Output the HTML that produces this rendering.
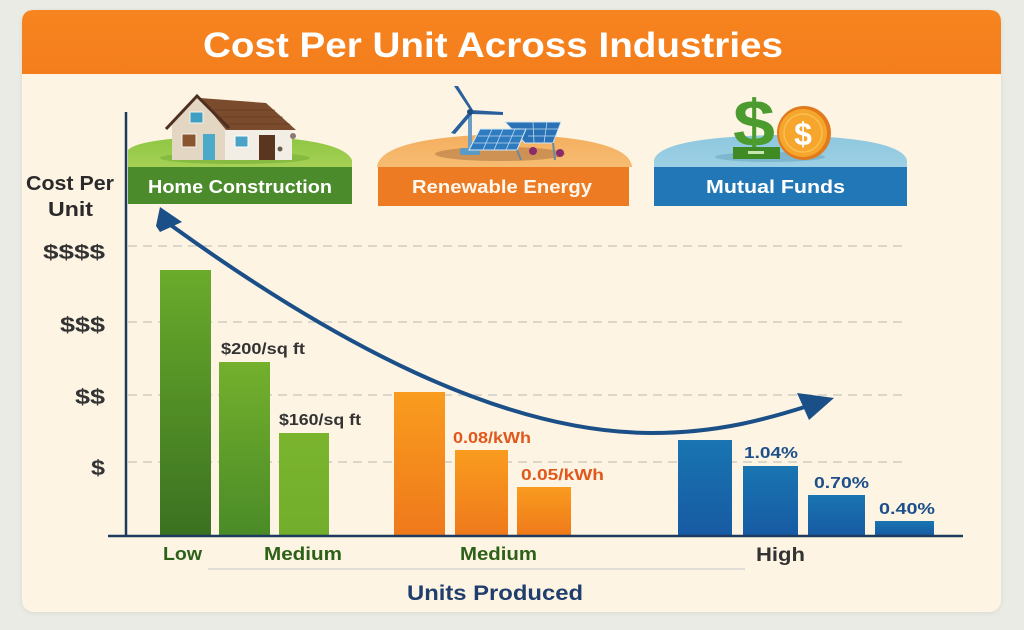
<!DOCTYPE html>
<html>
<head>
<meta charset="utf-8">
<style>
html,body{margin:0;padding:0;background:#eaebe4;}
svg{display:block;}
text{font-family:"Liberation Sans",sans-serif;font-weight:bold;}
</style>
</head>
<body>
<svg width="1024" height="630" viewBox="0 0 1024 630" xmlns="http://www.w3.org/2000/svg">
<defs>
  <linearGradient id="g1" x1="0" y1="0" x2="0" y2="1"><stop offset="0" stop-color="#6aab2b"/><stop offset="1" stop-color="#3a7121"/></linearGradient>
  <linearGradient id="g2" x1="0" y1="0" x2="0" y2="1"><stop offset="0" stop-color="#74b02d"/><stop offset="1" stop-color="#4a8b27"/></linearGradient>
  <linearGradient id="g3" x1="0" y1="0" x2="0" y2="1"><stop offset="0" stop-color="#7bb52e"/><stop offset="1" stop-color="#72ae2c"/></linearGradient>
  <linearGradient id="o1" x1="0" y1="0" x2="0" y2="1"><stop offset="0" stop-color="#f99c1e"/><stop offset="1" stop-color="#ef791b"/></linearGradient>
  <linearGradient id="b1" x1="0" y1="0" x2="0" y2="1"><stop offset="0" stop-color="#1975b1"/><stop offset="1" stop-color="#175aa3"/></linearGradient>
  <linearGradient id="hdr" x1="0" y1="0" x2="0" y2="1"><stop offset="0" stop-color="#f6841f"/><stop offset="1" stop-color="#f47e1c"/></linearGradient>
  <linearGradient id="domeG" x1="0" y1="0" x2="0" y2="1"><stop offset="0" stop-color="#8cc640"/><stop offset="1" stop-color="#a6d055"/></linearGradient>
  <linearGradient id="domeO" x1="0" y1="0" x2="0" y2="1"><stop offset="0" stop-color="#f4ae5e"/><stop offset="1" stop-color="#f6bc72"/></linearGradient>
  <linearGradient id="domeB" x1="0" y1="0" x2="0" y2="1"><stop offset="0" stop-color="#8dc7df"/><stop offset="1" stop-color="#9dd0e4"/></linearGradient>
  <filter id="sh" x="-5%" y="-5%" width="110%" height="110%"><feDropShadow dx="0" dy="1" stdDeviation="2" flood-color="#000" flood-opacity="0.08"/></filter>
</defs>

<!-- card -->
<rect x="22" y="10" width="979" height="602" rx="12" fill="#fdf4e3" filter="url(#sh)"/>
<path d="M22,74 L22,22 Q22,10 34,10 L989,10 Q1001,10 1001,22 L1001,74 Z" fill="url(#hdr)"/>
<text x="203" y="57" font-size="35" fill="#ffffff" textLength="580" lengthAdjust="spacingAndGlyphs">Cost Per Unit Across Industries</text>

<!-- gridlines -->
<g stroke="#d2cdc3" stroke-width="1.6" stroke-dasharray="9 6">
  <line x1="128" y1="246" x2="907" y2="246"/>
  <line x1="128" y1="322" x2="907" y2="322"/>
  <line x1="128" y1="395" x2="907" y2="395"/>
  <line x1="128" y1="462" x2="907" y2="462"/>
</g>

<!-- Home construction panel -->
<path d="M128,167 L128,150 Q140,137 240,136 Q342,138 352,160 L352,167 Z" fill="url(#domeG)"/>
<ellipse cx="235" cy="158" rx="75" ry="6" fill="#7bb43a" opacity="0.7"/>
<!-- house -->
<polygon points="172,124 197,98 225,124 225,160 172,160" fill="#e3d7c4"/>
<rect x="225" y="128" width="67" height="32" fill="#f2eee6"/>
<polygon points="200,98 266,103 296,130 226,130" fill="#7b4b2d"/>
<g stroke="#5e3a22" stroke-width="0.8" opacity="0.7">
  <line x1="210" y1="110" x2="275" y2="110"/>
  <line x1="216" y1="117" x2="283" y2="117"/>
  <line x1="222" y1="124" x2="290" y2="124"/>
</g>
<polyline points="166,129 197,96 229,128" fill="none" stroke="#4f3020" stroke-width="3"/>
<rect x="190" y="112" width="13" height="11" fill="#3f9fc2" stroke="#f4f0e8" stroke-width="1"/>
<rect x="182" y="134" width="14" height="13" fill="#8a5630" stroke="#f4f0e8" stroke-width="1"/>
<rect x="203" y="134" width="12" height="26" fill="#4aaac8"/>
<rect x="235" y="136" width="13" height="11" fill="#4aa2c4" stroke="#fff" stroke-width="1"/>
<rect x="259" y="135" width="16" height="25" fill="#5a3520"/>
<circle cx="280" cy="149" r="2.5" fill="#6b5a50"/>
<circle cx="293" cy="136" r="3" fill="#8a7a70"/>
<rect x="128" y="167" width="224" height="37" fill="#4b8b2b"/>
<text x="148" y="193" font-size="18" fill="#ffffff" textLength="184" lengthAdjust="spacingAndGlyphs">Home Construction</text>

<!-- Renewable energy panel -->
<path d="M377,167 Q380,137 505,134 Q630,137 632,167 Z" fill="url(#domeO)"/>
<ellipse cx="500" cy="154" rx="65" ry="7" fill="#b27a45" opacity="0.6"/>
<!-- windmill -->
<rect x="468" y="112" width="4" height="40" fill="#6aa0c8"/>
<rect x="460" y="148" width="20" height="7" rx="2" fill="#5a9ac4"/>
<polygon points="470,110 454,86 458,86 473,110" fill="#2b5f9c"/>
<polygon points="471,110 503,112 503,115 471,114" fill="#2b5f9c"/>
<polygon points="469,112 451,133 455,134 472,114" fill="#2b5f9c"/>
<circle cx="470" cy="112" r="3" fill="#1e4a80"/>
<!-- panels -->
<polygon points="505,122 561,122 553,143 525,143" fill="#2a72b5" stroke="#cfe4f2" stroke-width="1"/>
<line x1="553" y1="143" x2="555" y2="160" stroke="#6b8aa0" stroke-width="2"/>
<polygon points="480,129 526,129 517,150 469,150" fill="#2f7bbf" stroke="#d8ebf5" stroke-width="1"/>
<g stroke="#bcd9ee" stroke-width="0.8">
  <line x1="478" y1="136" x2="523" y2="136"/><line x1="474" y1="143" x2="520" y2="143"/>
  <line x1="492" y1="129" x2="483" y2="150"/><line x1="503" y1="129" x2="494" y2="150"/><line x1="515" y1="129" x2="506" y2="150"/>
  <line x1="520" y1="129" x2="558" y2="129"/><line x1="528" y1="136" x2="555" y2="136"/>
  <line x1="533" y1="122" x2="534" y2="143"/><line x1="547" y1="122" x2="544" y2="143"/>
</g>
<line x1="517" y1="150" x2="521" y2="160" stroke="#6b8aa0" stroke-width="2"/>
<circle cx="533" cy="151" r="4" fill="#8a2a6a"/>
<circle cx="560" cy="153" r="4" fill="#8a2a6a"/>
<rect x="378" y="167" width="251" height="39" fill="#ec7b23"/>
<text x="412" y="193" font-size="18" fill="#fff8ee" textLength="180" lengthAdjust="spacingAndGlyphs">Renewable Energy</text>

<!-- Mutual funds panel -->
<path d="M654,167 L654,160 Q660,137 780,135 Q900,137 907,160 L907,167 Z" fill="url(#domeB)"/>
<ellipse cx="770" cy="157" rx="55" ry="5" fill="#6ea9bf" opacity="0.6"/>
<text x="733" y="146" font-size="66" fill="#4c9b2e" textLength="42" lengthAdjust="spacingAndGlyphs">$</text>
<rect x="733" y="147" width="47" height="12" fill="#3f8a25"/>
<rect x="748" y="151" width="16" height="3" fill="#c8e6b0"/>
<circle cx="804" cy="133" r="27" fill="#e07a1c"/>
<circle cx="803" cy="133" r="24" fill="#f6a62c"/>
<circle cx="803" cy="133" r="19" fill="none" stroke="#f8c050" stroke-width="1.5"/>
<text x="803" y="145" font-size="32" fill="#ffffff" text-anchor="middle">$</text>
<rect x="654" y="167" width="253" height="39" fill="#2278b6"/>
<text x="706" y="193" font-size="18" fill="#ffffff" textLength="139" lengthAdjust="spacingAndGlyphs">Mutual Funds</text>

<!-- y axis label -->
<text x="26" y="190" font-size="20" font-weight="normal" fill="#2a2a2a" textLength="88" lengthAdjust="spacingAndGlyphs" style="font-weight:600">Cost Per</text>
<text x="48" y="216" font-size="20" fill="#2a2a2a" textLength="45" lengthAdjust="spacingAndGlyphs" style="font-weight:600">Unit</text>

<!-- y tick labels -->
<text x="43" y="259" font-size="20" fill="#333333" textLength="62" lengthAdjust="spacingAndGlyphs">$$$$</text>
<text x="60" y="332" font-size="21" fill="#333333" textLength="45" lengthAdjust="spacingAndGlyphs">$$$</text>
<text x="75" y="404" font-size="21" fill="#333333" textLength="30" lengthAdjust="spacingAndGlyphs">$$</text>
<text x="91" y="475" font-size="21" fill="#333333" textLength="14" lengthAdjust="spacingAndGlyphs">$</text>

<!-- bars -->
<rect x="160" y="270" width="51" height="266" fill="url(#g1)"/>
<rect x="219" y="362" width="51" height="174" fill="url(#g2)"/>
<rect x="279" y="433" width="50" height="103" fill="url(#g3)"/>
<rect x="394" y="392" width="51" height="144" fill="url(#o1)"/>
<rect x="455" y="450" width="53" height="86" fill="url(#o1)"/>
<rect x="517" y="487" width="54" height="49" fill="url(#o1)"/>
<rect x="678" y="440" width="54" height="96" fill="url(#b1)"/>
<rect x="743" y="466" width="55" height="70" fill="url(#b1)"/>
<rect x="808" y="495" width="57" height="41" fill="url(#b1)"/>
<rect x="875" y="521" width="59" height="15" fill="url(#b1)"/>

<!-- bar labels -->
<text x="221" y="354" font-size="16" fill="#333333" textLength="84" lengthAdjust="spacingAndGlyphs">$200/sq ft</text>
<text x="279" y="425" font-size="16" fill="#333333" textLength="82" lengthAdjust="spacingAndGlyphs">$160/sq ft</text>
<text x="453" y="443" font-size="16" fill="#e0581c" textLength="78" lengthAdjust="spacingAndGlyphs">0.08/kWh</text>
<text x="521" y="480" font-size="16" fill="#e0581c" textLength="83" lengthAdjust="spacingAndGlyphs">0.05/kWh</text>
<text x="744" y="458" font-size="16" fill="#1d4f8a" textLength="54" lengthAdjust="spacingAndGlyphs">1.04%</text>
<text x="814" y="488" font-size="16" fill="#1d4f8a" textLength="55" lengthAdjust="spacingAndGlyphs">0.70%</text>
<text x="879" y="514" font-size="16" fill="#1d4f8a" textLength="56" lengthAdjust="spacingAndGlyphs">0.40%</text>

<!-- axes -->
<line x1="126" y1="112" x2="126" y2="537" stroke="#1f3a5f" stroke-width="2.5"/>
<line x1="108" y1="536" x2="963" y2="536" stroke="#1f3a5f" stroke-width="2.5"/>

<!-- x labels -->
<text x="163" y="560" font-size="18" fill="#2e6118" textLength="39" lengthAdjust="spacingAndGlyphs">Low</text>
<text x="264" y="560" font-size="18" fill="#2e6118" textLength="78" lengthAdjust="spacingAndGlyphs">Medium</text>
<text x="460" y="560" font-size="18" fill="#2e6118" textLength="77" lengthAdjust="spacingAndGlyphs">Medium</text>
<text x="756" y="561" font-size="19" fill="#333333" textLength="49" lengthAdjust="spacingAndGlyphs">High</text>
<line x1="208" y1="569" x2="745" y2="569" stroke="#cfcfcf" stroke-width="1.2"/>
<text x="407" y="600" font-size="21" fill="#1f3e6d" textLength="176" lengthAdjust="spacingAndGlyphs">Units Produced</text>

<!-- trend curve -->
<path d="M172,226 C330,340 500,433 652,433 C720,433 770,418 808,406" fill="none" stroke="#1a4f87" stroke-width="4" stroke-linecap="round"/>
<polygon points="160,207 156,226 160,232 182,222" fill="#1a4f87"/>
<polygon points="797,393 834,398 809,420" fill="#1a4f87"/>
</svg>
</body>
</html>
